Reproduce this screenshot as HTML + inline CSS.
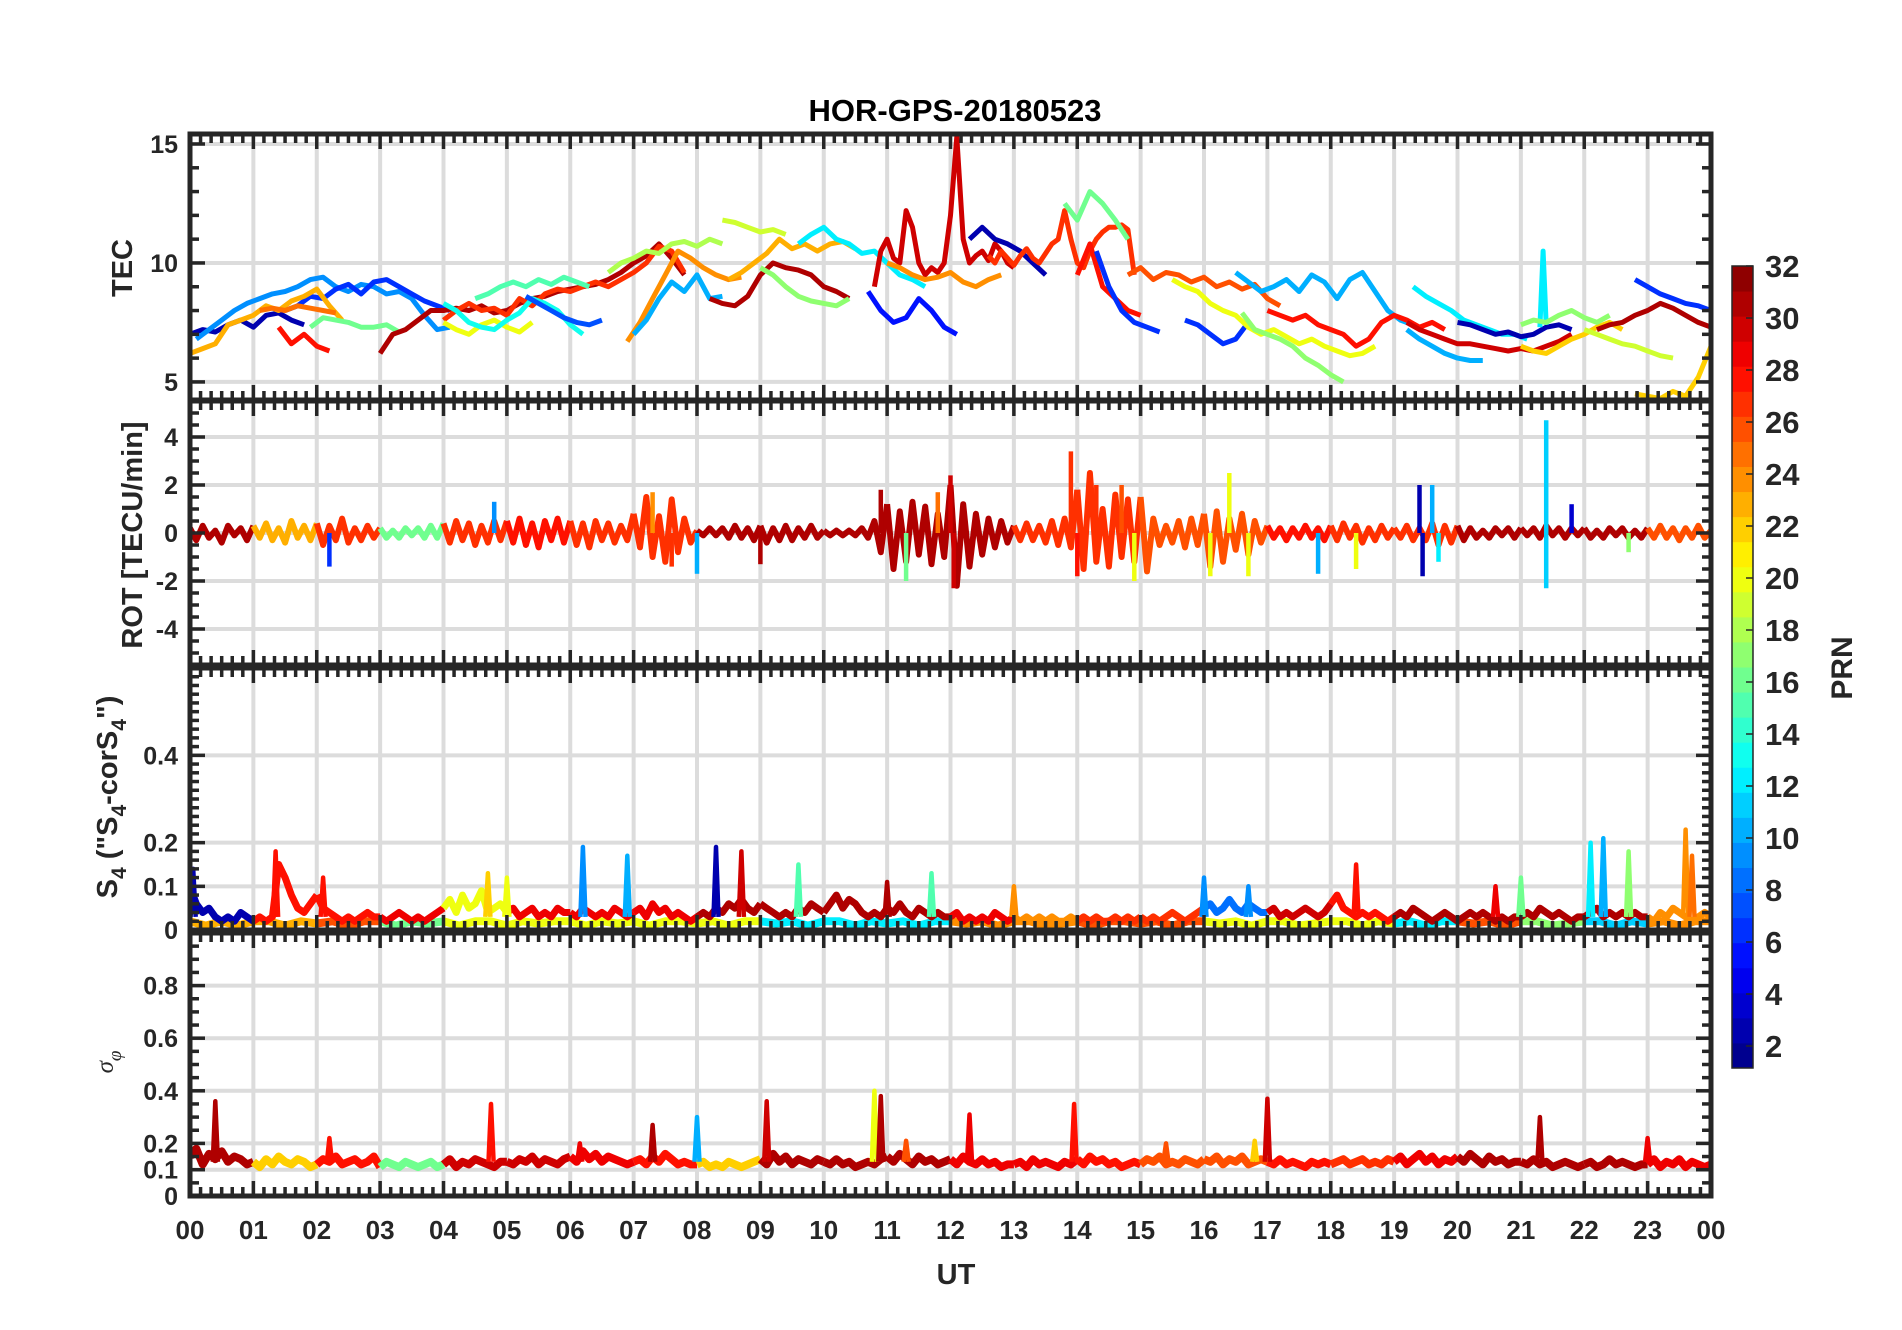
<!DOCTYPE html>
<html><head><meta charset="utf-8"><title>HOR-GPS-20180523</title>
<style>html,body{margin:0;padding:0;background:#fff;}svg{display:block;font-family:"Liberation Sans",Arial,sans-serif;}</style>
</head><body>
<svg id="fig" width="1902" height="1330" viewBox="0 0 1902 1330" xmlns="http://www.w3.org/2000/svg">
<rect x="0" y="0" width="1902" height="1330" fill="#fff"/>
<text x="955" y="121" font-size="31" font-weight="bold" text-anchor="middle" fill="#000">HOR-GPS-20180523</text>
<g id="layer"></g>
</svg>
<script>
// ---------- DATA ----------
const hourLabels = ["00","01","02","03","04","05","06","07","08","09","10","11","12","13","14","15","16","17","18","19","20","21","22","23","00"];
const tecTicks = [5,10,15];
const rotTicks = [-4,-2,0,2,4];
const s4Ticks = [0,0.1,0.2,0.4];
const sigTicks = [0,0.1,0.2,0.4,0.6,0.8];
const cbTicks = [2,4,6,8,10,12,14,16,18,20,22,24,26,28,30,32];

const tecPrn   = [2,9,6,23,25,28,16,31,27,20,13,15,7,24,10,18,19,23,31,12,17,5,30,2,24,27,28,16,6,26,6,20,17,10,28,30,12,10,2,22,12,17,19,6,31,22];
const tecStart = [0,0.1,1.5,0,1.1,1.4,1.9,3.0,4.0,4.0,4.0,4.5,5.3,6.9,7.0,6.6,8.4,8.5,8.2,9.6,9.0,10.7,10.8,12.3,11.0,12.6,14.0,13.8,14.3,14.8,15.7,15.5,16.6,16.5,17.0,19.2,19.3,19.2,20.0,21.0,21.3,21.0,22.0,22.8,22.2,22.8];
const tecStep  = [0.2,0.2,0.2,0.2,0.2,0.2,0.2,0.2,0.2,0.2,0.2,0.2,0.2,0.2,0.2,0.2,0.2,0.2,0.2,0.2,0.2,0.2,0.1,0.2,0.2,0.1,0.2,0.2,0.2,0.2,0.2,0.2,0.2,0.2,0.2,0.2,0.2,0.2,0.2,0.2,0.05,0.2,0.2,0.2,0.2,0.2];
const tecVals = [
[7.0,7.2,7.1,7.4,7.6,7.3,7.8,7.9,7.6,7.4],
[6.8,7.2,7.6,8.0,8.3,8.5,8.7,8.8,9.0,9.3,9.4,9.0,8.8,9.1,9.0,8.7,8.8,8.5,7.8,7.2,7.3],
[8.0,8.2,8.6,8.5,8.9,9.1,8.7,9.2,9.3,9.0,8.7,8.4,8.2,8.0],
[6.2,6.4,6.6,7.4,7.6,7.8,8.2,8.0,8.4,8.6,8.9,8.2,7.6],
[8.0,8.1,8.0,8.2,8.1,8.0,7.9],
[7.3,6.6,7.0,6.5,6.3],
[7.3,7.7,7.6,7.5,7.3,7.3,7.4,7.1],
[6.2,7.0,7.2,7.6,8.0,8.0,8.1,8.0,8.2,7.9,8.0,8.3,8.5,8.6,8.8,8.9,9.0,9.1,9.3,9.6,10.0,10.3,10.8,10.2,9.5],
[7.6,8.0,8.3,8.0,8.1,7.8,8.5,8.2,8.7,8.9,8.8,9.0,9.2,9.0,9.3,9.6,10.0,10.7,10.5,9.6],
[7.5,7.2,7.0,7.4,7.6,7.3,7.1,7.5],
[8.3,8.0,7.5,7.3,7.2,7.6,7.9,8.5,8.3,8.0,7.4,7.0],
[8.5,8.7,9.0,9.2,9.0,9.3,9.1,9.4,9.2,9.0],
[8.6,8.3,8.0,7.7,7.5,7.4,7.6],
[6.7,7.5,8.5,9.5,10.5,10.2,9.8,9.5,9.3,9.4],
[7.0,7.6,8.5,9.2,8.8,9.5,8.5,8.6],
[9.6,10.0,10.2,10.5,10.4,10.8,10.9,10.7,11.0,10.8],
[11.8,11.7,11.5,11.3,11.4,11.2],
[9.3,9.6,10.0,10.4,11.0,10.6,10.8,10.5,10.8,10.9,10.6],
[8.5,8.3,8.2,8.6,9.5,10.0,9.8,9.7,9.5,9.0,8.8,8.5],
[10.8,11.2,11.5,11.0,10.8,10.4,10.5,10.0,9.5,9.3,9.0],
[9.8,9.5,9.0,8.6,8.4,8.3,8.2,8.5],
[8.8,8.0,7.5,7.7,8.5,8.0,7.3,7.0],
[9.0,10.5,11.0,10.2,10.0,12.2,11.5,10.0,9.5,9.8,9.6,10.0,12.0,15.3,11.0,10.0,10.3,10.5,10.1,10.8,10.5,10.0,9.8],
[11.0,11.5,11.0,10.8,10.5,10.0,9.5],
[10.0,9.8,9.5,9.3,9.4,9.6,9.2,9.0,9.3,9.5],
[10.3,10.0,10.5,10.2,9.9,10.3,10.6,10.2,10.0,10.4,10.8,11.0,12.2,11.0,10.0,9.8,10.5,11.0,11.3,11.5,11.5,11.6,11.4,9.5],
[9.5,10.8,9.0,8.5,8.0,7.8],
[12.5,11.8,13.0,12.5,11.8,11.0],
[10.5,9.0,8.0,7.5,7.3,7.1],
[9.5,9.8,9.3,9.6,9.5,9.2,9.4,9.0,9.2,8.9,9.1,8.5,8.2],
[7.6,7.4,7.0,6.6,6.8,7.5],
[9.3,9.0,8.8,8.3,8.0,7.8,7.3,7.0,7.2,6.9,6.6,6.8,6.5,6.3,6.1,6.2,6.5],
[7.9,7.2,7.0,6.8,6.5,6.0,5.7,5.3,5.0],
[9.6,9.2,8.8,9.0,9.3,8.8,9.5,9.2,8.5,9.3,9.6,8.8,8.0,7.6,7.4],
[8.0,7.8,7.6,7.8,7.4,7.2,7.0,6.5,6.8,7.5,7.8,7.6,7.3,7.5,7.2],
[7.5,7.2,7.0,6.8,6.6,6.6,6.5,6.4,6.3,6.4,6.3,6.5,6.7,7.0],
[9.0,8.6,8.3,8.0,7.6,7.4,7.2,7.0,7.0,6.8],
[7.2,6.8,6.5,6.2,6.0,5.9,5.9],
[7.5,7.4,7.2,7.0,7.1,6.9,7.0,7.3,7.4,7.2],
[6.5,6.3,6.2,6.5,6.8,7.0,7.3,7.5,7.2],
[7.3,10.5,7.4],
[7.4,7.6,7.5,7.8,8.0,7.7,7.5,7.8],
[7.2,7.0,6.8,6.6,6.5,6.3,6.1,6.0],
[9.3,9.0,8.7,8.5,8.3,8.2,8.0],
[7.2,7.4,7.5,7.8,8.0,8.3,8.1,7.8,7.5,7.3],
[4.5,4.4,4.3,4.6,4.4,5.2,6.5]
];

// ROT: base trace at 0.1 h, PRN colour per hour, spikes [hour, value, prn]
const rotVals = [
0.2,-0.3,0.3,-0.2,0.1,-0.4,0.3,-0.1,0.2,-0.3, 0.3,-0.2,0.4,-0.3,0.2,-0.4,0.5,-0.2,0.3,-0.3,
0.4,-0.5,0.3,-0.3,0.6,-0.4,0.2,-0.3,0.3,-0.2, 0.2,-0.2,0.1,-0.2,0.2,-0.1,0.2,-0.2,0.3,-0.2,
0.4,-0.4,0.5,-0.3,0.4,-0.5,0.3,-0.4,0.5,-0.3, 0.5,-0.4,0.6,-0.5,0.4,-0.6,0.5,-0.3,0.6,-0.4,
0.5,-0.5,0.4,-0.6,0.5,-0.3,0.4,-0.4,0.3,-0.3, 0.8,-0.6,1.5,-1.0,0.7,-1.2,1.4,-0.8,0.6,-0.4,
0.1,-0.1,0.2,-0.1,0.2,-0.2,0.3,-0.2,0.2,-0.3, 0.3,-0.4,0.2,-0.3,0.3,-0.3,0.2,-0.2,0.3,-0.2,
0.1,-0.1,0.1,-0.1,0.1,-0.1,0.2,-0.2,0.5,-0.8, 1.2,-1.5,0.9,-1.2,1.3,-0.9,1.1,-1.3,0.8,-1.0,
2.0,-2.2,1.2,-1.4,0.8,-0.9,0.6,-0.6,0.5,-0.4, 0.3,-0.3,0.4,-0.3,0.3,-0.4,0.5,-0.5,0.6,-0.6,
1.8,-1.5,2.5,-1.2,1.0,-1.4,1.6,-1.0,1.4,-1.2, 1.5,-1.6,0.6,-0.5,0.3,-0.4,0.5,-0.6,0.6,-0.5,
0.8,-1.4,0.9,-1.2,0.6,-0.7,0.8,-0.9,0.5,-0.4, 0.3,-0.2,0.2,-0.3,0.2,-0.2,0.3,-0.2,0.2,-0.3,
0.3,-0.3,0.4,-0.2,0.3,-0.4,0.2,-0.3,0.3,-0.2, 0.2,-0.2,0.3,-0.3,0.2,-0.3,0.4,-0.5,0.3,-0.4,
0.3,-0.3,0.2,-0.2,0.1,-0.2,0.2,-0.1,0.2,-0.2, 0.2,-0.1,0.2,-0.2,0.3,-0.1,0.2,-0.2,0.2,-0.1,
0.2,-0.2,0.1,-0.2,0.2,-0.1,0.2,-0.2,0.1,-0.2, 0.2,-0.2,0.3,-0.2,0.2,-0.3,0.2,-0.2,0.3,-0.2,0.1];
const rotPrn = [31,23,27,16,27,28,27,27,31,31,31,31,31,27,27,26,26,28,27,27,31,31,31,26];
const rotSpikes = [[2.2,-1.4,6],[4.8,1.3,9],[7.3,1.7,24],[7.6,-1.4,27],[8.0,-1.7,10],[9.0,-1.3,31],[10.9,1.8,31],[11.3,-2.0,16],[11.8,1.7,25],[12.0,2.4,30],[12.05,-2.3,30],[13.9,3.4,27],[14.0,-1.8,28],[14.3,2.0,27],[14.7,2.0,26],[14.9,-2.0,20],[16.1,-1.8,20],[16.4,2.5,20],[16.7,-1.8,20],[17.8,-1.7,10],[18.4,-1.5,20],[19.4,2.0,2],[19.45,-1.8,2],[19.6,2.0,10],[19.7,-1.2,12],[21.4,4.7,11],[21.4,-2.3,11],[21.8,1.2,3],[22.7,-0.8,17]];

// S4
const s4Vals = [
.10,.06,.04,.05,.03,.02,.03,.02,.04,.03, .02,.03,.02,.03,.15,.12,.08,.05,.04,.06,
.08,.05,.04,.03,.02,.03,.02,.03,.04,.03, .03,.02,.03,.04,.03,.02,.03,.02,.03,.04,
.05,.07,.04,.08,.05,.06,.09,.04,.05,.06, .04,.05,.03,.04,.05,.03,.04,.03,.05,.04,
.04,.03,.05,.04,.03,.04,.03,.05,.04,.03, .04,.05,.03,.06,.04,.05,.03,.04,.03,.02,
.03,.04,.03,.05,.04,.06,.05,.07,.05,.04, .06,.05,.04,.03,.04,.03,.05,.04,.06,.05,
.04,.06,.08,.05,.07,.06,.04,.03,.04,.03, .05,.04,.06,.04,.03,.05,.04,.03,.04,.03,
.03,.04,.02,.03,.02,.03,.02,.04,.03,.02, .03,.02,.03,.02,.03,.02,.03,.02,.02,.03,
.02,.03,.02,.03,.02,.02,.03,.02,.03,.02, .03,.02,.03,.02,.03,.04,.03,.02,.03,.04,
.05,.06,.04,.05,.07,.05,.04,.06,.05,.04, .04,.05,.03,.04,.03,.04,.05,.04,.03,.04,
.06,.08,.05,.04,.03,.04,.03,.04,.03,.02, .03,.04,.03,.05,.04,.03,.02,.03,.04,.03,
.02,.03,.04,.03,.04,.03,.02,.03,.02,.03, .03,.04,.03,.05,.04,.03,.04,.03,.02,.03,
.03,.04,.05,.03,.04,.03,.04,.03,.04,.03, .03,.02,.04,.03,.05,.04,.03,.02,.03,.04,.03];
const s4Prn = [2,28,28,29,20,29,29,29,31,31,31,31,29,24,27,27,8,30,28,31,31,31,31,24];
const s4LowVals = [.02,.01,.02,.01,.02,.02,.01,.02,.015,.02,.01,.02,.02,.01,.02,.015,.02,.01,.02,.02,.01,.02,.015,.02,.02,.01,.02,.015,.02,.01,.02,.02,.015,.02,.01,.02,.02,.015,.02,.01,.02,.02,.01,.02,.015,.02,.01,.02,.02,.015,.02,.01,.02,.02,.01,.015,.02,.01,.02,.02,.015,.02,.01,.02,.02,.015,.02,.01,.02,.02,.01,.015,.02,.02,.01,.02,.015,.02,.01,.02,.02,.015,.02,.01,.02,.02,.01,.015,.02,.02,.01,.02,.015,.02,.01,.02,.02];
const s4LowPrn = [23,23,26,16,20,20,20,20,20,12,12,12,24,24,26,26,20,20,20,12,26,17,11,24];
const s4Spikes = [[0.05,.14,2],[1.35,.18,28],[2.1,.12,28],[4.7,.13,22],[5.0,.12,20],[6.2,.19,9],[6.9,.17,10],[8.3,.19,2],[8.7,.18,30],[9.6,.15,15],[11.0,.11,31],[11.7,.13,15],[13.0,.10,24],[16.0,.12,9],[16.7,.10,9],[18.4,.15,28],[20.6,.10,29],[21.0,.12,16],[22.1,.20,12],[22.3,.21,10],[22.7,.18,17],[23.6,.23,24],[23.7,.17,25]];

// sigma phi
const sigVals = [
.15,.18,.12,.16,.14,.17,.13,.15,.14,.12, .13,.11,.14,.12,.15,.13,.12,.14,.13,.11,
.12,.14,.13,.15,.12,.13,.14,.12,.13,.15, .11,.13,.12,.11,.13,.12,.11,.12,.13,.11,
.12,.14,.11,.13,.12,.14,.13,.12,.11,.13, .13,.12,.14,.13,.15,.12,.14,.13,.12,.14,
.15,.13,.17,.14,.16,.13,.15,.14,.13,.12, .13,.14,.12,.15,.13,.16,.14,.12,.13,.12,
.12,.13,.11,.12,.11,.13,.12,.11,.12,.13, .14,.12,.16,.13,.15,.12,.14,.13,.12,.14,
.13,.12,.14,.12,.13,.11,.12,.13,.12,.14, .15,.13,.16,.14,.12,.15,.13,.14,.12,.13,
.14,.12,.15,.13,.12,.14,.12,.13,.11,.12, .12,.13,.11,.14,.12,.13,.12,.11,.13,.12,
.14,.12,.15,.13,.14,.12,.13,.11,.12,.13, .12,.14,.13,.15,.12,.13,.12,.14,.13,.12,
.14,.13,.15,.12,.14,.13,.15,.12,.13,.14, .13,.12,.14,.12,.13,.12,.11,.13,.12,.13,
.12,.13,.14,.12,.13,.14,.12,.13,.12,.14, .13,.15,.12,.14,.16,.13,.15,.12,.14,.13,
.15,.13,.16,.14,.12,.15,.13,.14,.12,.13, .13,.12,.14,.12,.13,.11,.12,.13,.12,.11,
.12,.13,.11,.12,.14,.12,.13,.12,.11,.12, .12,.14,.11,.13,.12,.14,.11,.13,.12,.11,.12];
const sigPrn = [31,22,28,16,30,30,29,28,22,31,31,31,29,29,28,26,26,28,27,29,31,31,31,29];
const sigSpikes = [[0.4,.36,31],[2.2,.22,28],[4.75,.35,28],[6.15,.20,29],[7.3,.27,31],[8.0,.30,10],[9.1,.36,30],[10.8,.40,20],[10.9,.38,31],[11.3,.21,26],[12.3,.31,29],[13.95,.35,28],[15.4,.20,26],[16.8,.21,22],[17.0,.37,30],[21.3,.30,31],[23.0,.22,29]];

// ---------- RENDER ----------
const NS = "http://www.w3.org/2000/svg";
const layer = document.getElementById("layer");
const X0 = 190, X1 = 1711;
const xs = h => X0 + (X1 - X0) * h / 24;
function jet(p){ // PRN 1..32 -> jet(32)
  const x = (p - 0.5) / 32;
  const c = v => Math.round(255 * Math.max(0, Math.min(1, v)));
  return "rgb(" + c(1.5 - Math.abs(4*x - 3)) + "," + c(1.5 - Math.abs(4*x - 2)) + "," + c(1.5 - Math.abs(4*x - 1)) + ")";
}
function mk(tag, attrs, parent){
  const e = document.createElementNS(NS, tag);
  for (const k in attrs) e.setAttribute(k, attrs[k]);
  (parent || layer).appendChild(e);
  return e;
}
const panels = [
  {name:"tec", y0:134, y1:400, lo:4.24, hi:15.42, ticks:tecTicks, minor:1, fmt:v=>String(v)},
  {name:"rot", y0:401, y1:665, lo:-5.5, hi:5.5, ticks:rotTicks, minor:0.5, fmt:v=>String(v)},
  {name:"s4", y0:668, y1:930, lo:0, hi:0.6, ticks:s4Ticks, minor:0.02, fmt:v=>v===0?"0":String(v)},
  {name:"sigma", y0:933, y1:1196, lo:0, hi:1, ticks:sigTicks, minor:0.05, fmt:v=>v===0?"0":String(v)}
];
panels.forEach(P => { P.ys = v => P.y1 - (v - P.lo) / (P.hi - P.lo) * (P.y1 - P.y0); });

const defs = mk("defs", {});
panels.forEach(P => {
  const cp = mk("clipPath", {id:"clip-" + P.name}, defs);
  mk("rect", {x:X0, y:P.y0, width:X1 - X0, height:P.y1 - P.y0}, cp);
});

function gridFor(P){
  const g = mk("g", {});
  
  
  for (let h = 1; h < 24; h++) mk("line", {x1:xs(h), x2:xs(h), y1:P.y0, y2:P.y1, stroke:"#dcdcdc", "stroke-width":4}, g);
  P.ticks.forEach(v => { if (v > P.lo && v < P.hi) mk("line", {x1:X0, x2:X1, y1:P.ys(v), y2:P.ys(v), stroke:"#dcdcdc", "stroke-width":4}, g); });
}
function lineFrom(P, pts, color, name, width){
  const pl = mk("polyline", {points: pts.map(p => p[0].toFixed(1) + "," + p[1].toFixed(1)).join(" "), fill:"none", stroke:color, "stroke-width":width || 5, "stroke-linejoin":"round", "clip-path":"url(#clip-" + P.name + ")"});
  
  
  return pl;
}
function drawBase(P, vals, prns, step, name, w){
  for (let hr = 0; hr < 24; hr++){
    const pts = [];
    const n = Math.round(1 / step);
    for (let k = 0; k <= n; k++){
      const i = hr * n + k;
      if (i < vals.length) pts.push([xs(i * step), P.ys(vals[i])]);
    }
    lineFrom(P, pts, jet(prns[hr]), name + "-hour-" + hr, w);
  }
}
function drawSpikes(P, spikes, base, name){
  spikes.forEach((s, i) => {
    const pts = [[xs(s[0] - 0.04), P.ys(base)], [xs(s[0]), P.ys(s[1])], [xs(s[0] + 0.04), P.ys(base)]];
    lineFrom(P, pts, jet(s[2]), name + "-spike-" + i, 4.5);
  });
}

panels.forEach(gridFor);

// TEC tracks
tecVals.forEach((vals, t) => {
  const P = panels[0];
  const pts = vals.map((v, i) => [xs(tecStart[t] + i * tecStep[t]), P.ys(v)]);
  lineFrom(P, pts, jet(tecPrn[t]), "tec-track-prn" + tecPrn[t], 5);
});
// ROT
drawBase(panels[1], rotVals, rotPrn, 0.1, "rot", 6);
rotSpikes.forEach((s, i) => {
  const P = panels[1];
  lineFrom(P, [[xs(s[0]), P.ys(0)], [xs(s[0]), P.ys(s[1])]], jet(s[2]), "rot-spike-" + i, 4.5);
});
// S4
for (let hr = 0; hr < 24; hr++){
  const P = panels[2], pts = [];
  for (let k = 0; k <= 4; k++){ const i = hr * 4 + k; if (i < s4LowVals.length) pts.push([xs(i * 0.25), P.ys(s4LowVals[i])]); }
  lineFrom(P, pts, jet(s4LowPrn[hr]), "s4-low-hour-" + hr, 8);
}
drawBase(panels[2], s4Vals, s4Prn, 0.1, "s4", 7);
drawSpikes(panels[2], s4Spikes, 0.03, "s4");
// sigma
drawBase(panels[3], sigVals, sigPrn, 0.1, "sigma", 8);
drawSpikes(panels[3], sigSpikes, 0.13, "sigma");

// Axes, ticks
const AX = "#262626";
panels.forEach(P => {
  const g = mk("g", {});
  
  
  for (let m = 0; m <= 144; m++){
    const x = xs(m / 6), len = (m % 6 === 0) ? 15 : 9;
    mk("line", {x1:x, x2:x, y1:P.y0, y2:P.y0 + len, stroke:AX, "stroke-width":3.5}, g);
    mk("line", {x1:x, x2:x, y1:P.y1, y2:P.y1 - len, stroke:AX, "stroke-width":3.5}, g);
  }
  const nMin = Math.round((P.hi - P.lo) / P.minor) + 2;
  const start = Math.ceil(P.lo / P.minor - 1e-6) * P.minor;
  for (let k = 0; k < nMin; k++){
    const v = start + k * P.minor;
    if (v > P.hi + 1e-9) break;
    const major = P.ticks.some(t => Math.abs(t - v) < 1e-6);
    const y = P.ys(v), len = major ? 15 : 9;
    mk("line", {x1:X0, x2:X0 + len, y1:y, y2:y, stroke:AX, "stroke-width":3.5}, g);
    mk("line", {x1:X1, x2:X1 - len, y1:y, y2:y, stroke:AX, "stroke-width":3.5}, g);
  }
  mk("rect", {x:X0, y:P.y0, width:X1 - X0, height:P.y1 - P.y0, fill:"none", stroke:AX, "stroke-width":5}, g);
  P.ticks.forEach(v => {
    const t = mk("text", {x:178, y:P.ys(v) + 9, "font-size":25, "font-weight":"bold", "text-anchor":"end", fill:AX});
    t.textContent = P.fmt(v);
    
    
  });
});
hourLabels.forEach((lab, i) => {
  const t = mk("text", {x:xs(i), y:1239, "font-size":26, "font-weight":"bold", "text-anchor":"middle", fill:AX});
  t.textContent = lab;
  
  
});

// Colorbar
const CB = {x:1732, w:21, y0:266, y1:1068, top:32, pxu:26};
const cbg = mk("g", {});


for (let p = 1; p <= 32; p++){
  const h = (CB.y1 - CB.y0) / 32;
  mk("rect", {x:CB.x, y:CB.y0 + (32 - p) * h, width:CB.w, height:h + 0.5, fill:jet(p)}, cbg);
}
mk("rect", {x:CB.x, y:CB.y0, width:CB.w, height:CB.y1 - CB.y0, fill:"none", stroke:AX, "stroke-width":1.5}, cbg);
cbTicks.forEach(v => {
  const y = CB.y0 + (CB.top - v) * CB.pxu;
  mk("line", {x1:CB.x + CB.w - 7, x2:CB.x + CB.w, y1:y, y2:y, stroke:AX, "stroke-width":1.5}, cbg);
  const t = mk("text", {x:1765, y:y + 11, "font-size":31, "font-weight":"bold", fill:AX}, cbg);
  t.textContent = String(v);
  
  
});
</script>
<svg style="position:absolute;left:0;top:0" width="1902" height="1330">
<text x="956" y="1284" font-size="29" font-weight="bold" text-anchor="middle" fill="#262626" font-family="Liberation Sans, sans-serif">UT</text>
<text transform="translate(132,268) rotate(-90)" font-size="29" font-weight="bold" text-anchor="middle" fill="#262626" font-family="Liberation Sans, sans-serif">TEC</text>
<text transform="translate(142,535) rotate(-90)" font-size="29" font-weight="bold" text-anchor="middle" fill="#262626" font-family="Liberation Sans, sans-serif">ROT [TECU/min]</text>
<text transform="translate(117,797) rotate(-90)" font-size="29" font-weight="bold" text-anchor="middle" fill="#262626" font-family="Liberation Sans, sans-serif">S<tspan font-size="21" dy="9">4</tspan><tspan dy="-9"> ("S</tspan><tspan font-size="21" dy="9">4</tspan><tspan dy="-9">-corS</tspan><tspan font-size="21" dy="9">4</tspan><tspan dy="-9">")</tspan></text>
<text transform="translate(113,1062) rotate(-90)" font-size="25" font-style="italic" text-anchor="middle" fill="#262626" font-family="Liberation Serif, serif">σ<tspan font-size="19" dy="8">φ</tspan></text>
<text transform="translate(1852,668) rotate(-90)" font-size="30" font-weight="bold" text-anchor="middle" fill="#262626" font-family="Liberation Sans, sans-serif">PRN</text>
</svg>
</body></html>
